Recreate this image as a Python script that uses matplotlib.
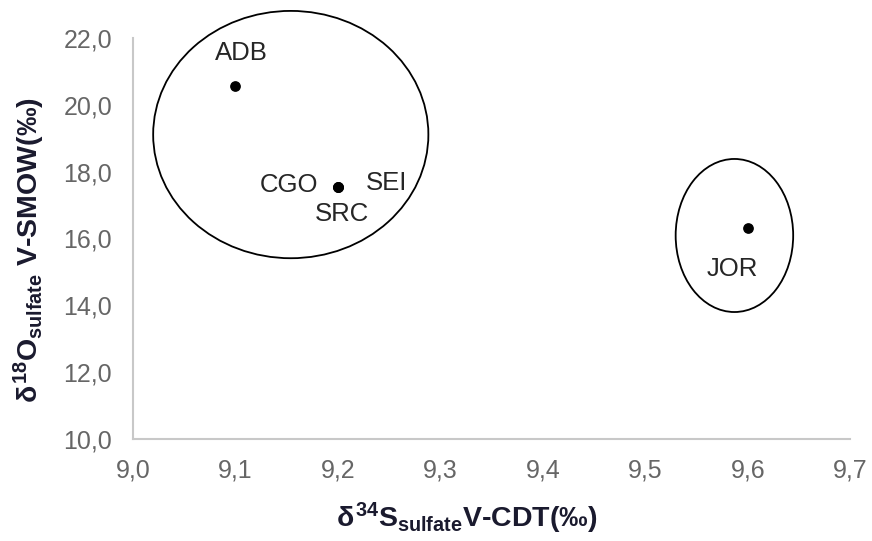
import matplotlib
matplotlib.use("Agg")
import matplotlib.pyplot as plt
from matplotlib.patches import Ellipse
from matplotlib.ticker import FuncFormatter, MultipleLocator

# data
sites = ["ADB", "CGO", "SRC", "SEI", "JOR"]
d34s = [9.1, 9.2, 9.2, 9.2, 9.6]
d18o = [20.55, 17.55, 17.55, 17.55, 16.3]

# label offsets (points) relative to each marker
label_dx = [4, -35, 3, 35, -11]
label_dy = [24, 1, -20, 3, -29]

# group outlines: centre x, centre y, width, height (data units)
groups = [
    (9.154, 19.11, 0.2686, 7.40),
    (9.587, 16.09, 0.1147, 4.58),
]

plt.rcParams['font.family'] = ['Liberation Sans', 'DejaVu Sans']
plt.rcParams['mathtext.fontset'] = 'custom'
plt.rcParams['mathtext.rm'] = 'Liberation Sans:bold'
plt.rcParams['mathtext.bf'] = 'Liberation Sans:bold'
plt.rcParams['mathtext.it'] = 'Liberation Sans:bold'

fig = plt.figure(figsize=(8.72, 5.41), dpi=100)
ax = fig.add_axes([0.1525, 0.1885, 0.8225, 0.7413])

ax.scatter(d34s, d18o, s=45, color='black', zorder=3)

for name, x, y, dx, dy in zip(sites, d34s, d18o, label_dx, label_dy):
    ax.annotate(name, (x, y), xytext=(dx, dy), textcoords='offset points',
                ha='center', va='center', fontsize=18.5, color='#262626')

for cx, cy, w, h in groups:
    ax.add_patch(Ellipse((cx, cy), w, h, fill=False, edgecolor='black',
                         linewidth=1.3, clip_on=False, zorder=2))

ax.set_xlim(9.0, 9.7)
ax.set_ylim(10.0, 22.0)
ax.xaxis.set_major_locator(MultipleLocator(0.1))
ax.yaxis.set_major_locator(MultipleLocator(2.0))
comma = FuncFormatter(lambda v, p: f"{v:.1f}".replace('.', ','))
ax.xaxis.set_major_formatter(comma)
ax.yaxis.set_major_formatter(comma)

ax.tick_params(length=0, labelsize=18, labelcolor='#666666')
ax.tick_params(axis='y', pad=15)
ax.tick_params(axis='x', pad=14)

for side in ['top', 'right']:
    ax.spines[side].set_visible(False)
for side in ['left', 'bottom']:
    ax.spines[side].set_color('#c8c8c8')
    ax.spines[side].set_linewidth(1.5)

ax.set_xlabel(r'$\delta^{34}S_{sulfate}$' + 'V-CDT(‰)', fontsize=20.5,
              fontweight='bold', color='#1a1a2e', labelpad=13)
ax.set_ylabel(r'$\delta^{18}O_{sulfate}$' + ' V-SMOW(‰)', fontsize=20.5,
              fontweight='bold', color='#1a1a2e', labelpad=12)
ax.xaxis.label.set_x(0.465)
ax.yaxis.label.set_y(0.47)

fig.savefig("out.png", dpi=100)
